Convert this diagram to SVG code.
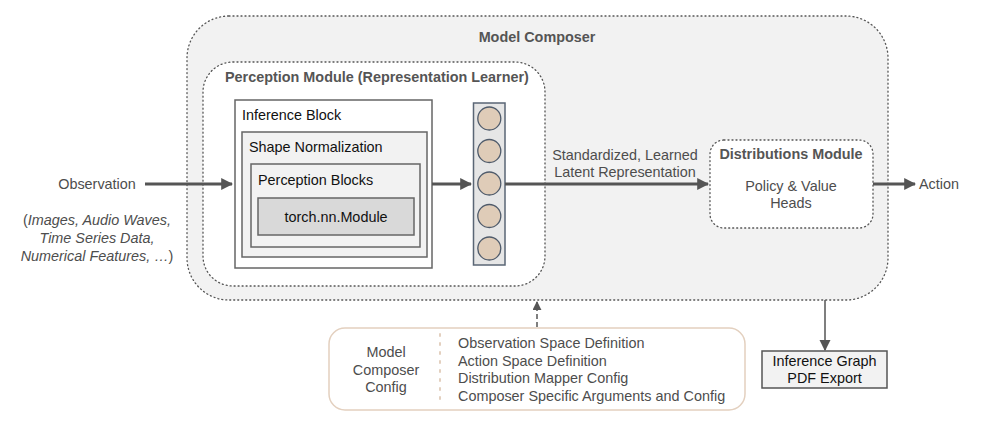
<svg xmlns="http://www.w3.org/2000/svg" width="984" height="424" viewBox="0 0 984 424">
<defs>
<style>
text{font-family:"Liberation Sans",Arial,sans-serif;font-size:14.4px;fill:#4d4d4d}
.b{font-weight:bold;fill:#555}
.k{fill:#111}
.i{font-style:italic}
.dot{stroke:#555;stroke-width:1.3;stroke-dasharray:1 3;stroke-linecap:round}
.box{stroke:#666;stroke-width:1.5}
.conn{stroke:#555;stroke-width:3;fill:none}
.cir{fill:#dfccb8;stroke:#4f5b6b;stroke-width:1.3}
</style>
<marker id="ah" viewBox="0 0 10 10" refX="9" refY="5" markerWidth="4" markerHeight="4" markerUnits="strokeWidth" orient="auto"><path d="M0,0L10,5L0,10z" fill="#555"/></marker>
<marker id="ah2" viewBox="0 0 10 10" refX="9" refY="5" markerWidth="9" markerHeight="9" markerUnits="userSpaceOnUse" orient="auto"><path d="M0,0L10,5L0,10z" fill="#555"/></marker>
<marker id="ah3" viewBox="0 0 10 10" refX="9" refY="5" markerWidth="11" markerHeight="12" markerUnits="userSpaceOnUse" orient="auto"><path d="M0,0L10,5L0,10z" fill="#555"/></marker>
</defs>
<rect width="984" height="424" fill="#fff"/>

<g id="model-composer">
<rect x="187" y="16" width="701" height="284" rx="42" fill="#f2f2f2" class="dot"/>
<text x="537" y="42" text-anchor="middle" class="b">Model Composer</text>
</g>

<g id="perception-module">
<rect x="203" y="62" width="342" height="224" rx="30" fill="#fff" class="dot"/>
<text x="225" y="82" class="b">Perception Module (Representation Learner)</text>
</g>

<g id="inference-block">
<rect x="235" y="100" width="197" height="168" fill="#fff" class="box"/>
<text x="242" y="120" class="k">Inference Block</text>
</g>
<g id="shape-normalization">
<rect x="242" y="132" width="185" height="125" fill="#f2f2f2" class="box"/>
<text x="249" y="152" class="k">Shape Normalization</text>
</g>
<g id="perception-blocks">
<rect x="251" y="164" width="169" height="83" fill="#f2f2f2" class="box"/>
<text x="258" y="185" class="k">Perception Blocks</text>
</g>
<g id="torch-module">
<rect x="258" y="198" width="156" height="37" fill="#d9d9d9" class="box"/>
<text x="336" y="222" text-anchor="middle" class="k">torch.nn.Module</text>
</g>

<g id="latent-vector">
<rect x="473.5" y="103" width="31.5" height="162" fill="#e6e6e6" stroke="#5a6675" stroke-width="1.5"/>
<circle cx="489.3" cy="118.5" r="11.5" class="cir"/>
<circle cx="489.3" cy="151" r="11.5" class="cir"/>
<circle cx="489.3" cy="183.5" r="11.5" class="cir"/>
<circle cx="489.3" cy="216" r="11.5" class="cir"/>
<circle cx="489.3" cy="248.5" r="11.5" class="cir"/>
</g>

<g id="distributions-module">
<rect x="710" y="140" width="163" height="88" rx="14" fill="#fff" class="dot"/>
<text x="791" y="159" text-anchor="middle" class="b">Distributions Module</text>
<text x="791" y="191" text-anchor="middle">Policy &amp; Value</text>
<text x="791" y="208" text-anchor="middle">Heads</text>
</g>

<g id="observation">
<text x="97" y="189" text-anchor="middle">Observation</text>
<text x="97" y="225" text-anchor="middle" class="i"><tspan font-style="normal">(</tspan>Images, Audio Waves,</text>
<text x="97" y="243" text-anchor="middle" class="i">Time Series Data,</text>
<text x="97" y="261" text-anchor="middle" class="i">Numerical Features, …<tspan font-style="normal">)</tspan></text>
</g>

<g id="action">
<text x="919" y="189">Action</text>
</g>

<g id="config">
<rect x="329" y="328" width="416" height="82" rx="16" fill="#fff" stroke="#e3d0bf" stroke-width="1.5"/>
<line x1="440" y1="334" x2="440" y2="404" stroke="#e3d0bf" stroke-width="2" stroke-dasharray="2 7" stroke-linecap="round"/>
<text x="386" y="357" text-anchor="middle">Model</text>
<text x="386" y="375" text-anchor="middle">Composer</text>
<text x="386" y="392" text-anchor="middle">Config</text>
<text x="458" y="348">Observation Space Definition</text>
<text x="458" y="366">Action Space Definition</text>
<text x="458" y="383">Distribution Mapper Config</text>
<text x="458" y="401">Composer Specific Arguments and Config</text>
</g>

<g id="inference-graph">
<rect x="762" y="351" width="125" height="37" fill="#f2f2f2" stroke="#555" stroke-width="1.5"/>
<text x="824.5" y="366" text-anchor="middle" class="k">Inference Graph</text>
<text x="824.5" y="383" text-anchor="middle" class="k">PDF Export</text>
</g>

<g id="connectors">
<line x1="145" y1="184" x2="232" y2="184" class="conn" marker-end="url(#ah)"/>
<line x1="432" y1="184" x2="471" y2="184" class="conn" marker-end="url(#ah)"/>
<line x1="505" y1="184" x2="708" y2="184" class="conn" marker-end="url(#ah)"/>
<text x="625" y="160" text-anchor="middle">Standardized, Learned</text>
<text x="625" y="177" text-anchor="middle">Latent Representation</text>
<line x1="873" y1="184" x2="915" y2="184" class="conn" marker-end="url(#ah)"/>
<line x1="537" y1="327" x2="537" y2="302" stroke="#555" stroke-width="1.5" stroke-dasharray="5 3" marker-end="url(#ah2)"/>
<line x1="825" y1="300" x2="825" y2="350" stroke="#555" stroke-width="1.5" marker-end="url(#ah3)"/>
</g>
</svg>
